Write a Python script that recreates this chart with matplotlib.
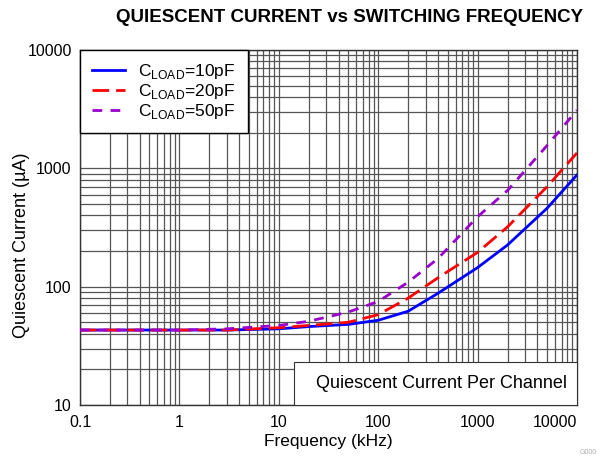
import matplotlib.pyplot as plt
from matplotlib.patches import Rectangle
from matplotlib.ticker import FixedLocator, FuncFormatter

plt.rcParams['font.family'] = ['Liberation Sans', 'DejaVu Sans']

# frequency in kHz, current in uA
freq = [0.1, 1, 3, 10, 20, 50, 100, 200, 400, 1000, 2000, 5000, 10000]
i_10pf = [43, 43, 43, 44, 46, 48, 52, 62, 88, 145, 225, 460, 880]
i_20pf = [43, 43, 43, 45, 47, 50, 58, 80, 119, 195, 320, 700, 1350]
i_50pf = [43, 43, 44, 47, 51, 61, 75, 109, 173, 390, 650, 1560, 3100]

x_ticks = [0.1, 1, 10, 100, 1000, 10000]
y_ticks = [10, 100, 1000, 10000]

fig = plt.figure(figsize=(6.02, 4.57), dpi=100)
ax = fig.add_axes([80/602, 52/457, 497/602, 355/457])

ax.loglog(freq, i_10pf, color='#0000ff', lw=2, label=r'C$_\mathregular{LOAD}$=10pF', zorder=4)
ax.loglog(freq, i_20pf, color='#ff0000', lw=2, dashes=(6, 2.5), label=r'C$_\mathregular{LOAD}$=20pF', zorder=4)
ax.loglog(freq, i_50pf, color='#9900cc', lw=2, dashes=(3.5, 3), label=r'C$_\mathregular{LOAD}$=50pF', zorder=4)

ax.set_xlim(0.1, 10000)
ax.set_ylim(10, 10000)

# last x label is drawn separately so it can sit inside the plot edge
ax.xaxis.set_major_locator(FixedLocator(x_ticks))
ax.yaxis.set_major_locator(FixedLocator(y_ticks))
ax.xaxis.set_major_formatter(FuncFormatter(lambda v, p: '' if v == x_ticks[-1] else '%g' % v))
ax.yaxis.set_major_formatter(FuncFormatter(lambda v, p: '%g' % v))
ax.tick_params(which='both', length=0, labelsize=11.5, pad=6)
ax.tick_params(axis='x', pad=7)
ax.annotate('%g' % x_ticks[-1], xy=(1, 0), xycoords='axes fraction',
            xytext=(0, -7), textcoords='offset points', ha='right', va='top', fontsize=11.5)

ax.grid(True, which='both', color='#555555', lw=0.9)
ax.set_axisbelow(True)
for s in ax.spines.values():
    s.set_color('#333333')
    s.set_linewidth(1)

ax.set_xlabel('Frequency (kHz)', fontsize=12.5, labelpad=3)
ax.set_ylabel('Quiescent Current (µA)', fontsize=13)
ax.yaxis.set_label_coords(-0.10, 0.45)

leg = ax.legend(loc='upper left', borderaxespad=0, fontsize=12.5, fancybox=False,
                framealpha=1, edgecolor='black', handlelength=1.9,
                handletextpad=0.75, labelspacing=0.05, borderpad=0.7)
leg.get_frame().set_linewidth(1)

ax.add_patch(Rectangle((0.43, 0), 0.57, 0.121, transform=ax.transAxes,
                       facecolor='white', edgecolor='#333333', lw=0.8, zorder=3))
ax.text(0.98, 0.06, 'Quiescent Current Per Channel', transform=ax.transAxes,
        ha='right', va='center', fontsize=13, zorder=5)

fig.text(350/602, 1 - 17/457, 'QUIESCENT CURRENT vs SWITCHING FREQUENCY',
         ha='center', va='center', fontsize=13.5, fontweight='bold')
fig.text(597/602, 1 - 452/457, 'G000', ha='right', va='center', fontsize=5, color='#aaaaaa')

fig.savefig('out.png', dpi=100)
